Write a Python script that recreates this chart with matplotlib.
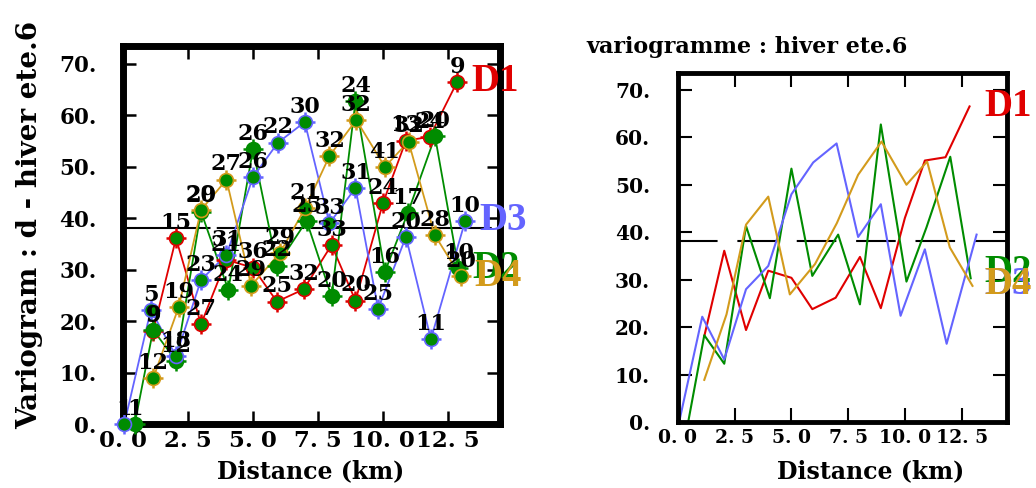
import matplotlib
matplotlib.use("Agg")
import matplotlib.pyplot as plt
from matplotlib.ticker import MultipleLocator, FuncFormatter

plt.rcParams["font.family"] = ["DejaVu Serif"]
plt.rcParams["font.weight"] = "bold"

# ------------------------------
# DATA
# ------------------------------
series_names = ["D1", "D2", "D3", "D4"]
series_colors = ["#e00000", "#008c00", "#6464ff", "#d39b1c"]

dist_d1 = [1.16, 2.04, 3.00, 3.98, 5.00, 5.92, 6.95, 8.02, 8.94, 10.00, 10.88, 11.79, 12.85]
gam_d1 = [18.1, 36.1, 19.4, 31.9, 30.4, 23.8, 26.2, 34.8, 24.0, 43.0, 55.1, 55.8, 66.5]
npairs_d1 = [9, 15, 27, 21, 36, 25, 32, 33, 20, 24, 13, 24, 9]

dist_d2 = [0.45, 1.16, 2.04, 3.00, 4.05, 5.00, 5.92, 7.06, 8.02, 8.94, 10.07, 10.95, 12.00, 12.90]
gam_d2 = [0.0, 18.3, 12.3, 41.3, 26.1, 53.4, 30.8, 39.5, 24.8, 62.7, 29.6, 41.0, 55.9, 30.3]
npairs_d2 = [1, 9, 12, 20, 24, 26, 22, 25, 20, 24, 16, 17, 20, 10]

dist_d3 = [0.05, 1.07, 2.04, 3.00, 3.98, 5.00, 5.96, 6.99, 7.94, 8.94, 9.81, 10.88, 11.84, 13.16]
gam_d3 = [0.0, 22.2, 13.2, 28.0, 32.9, 48.0, 54.7, 58.7, 39.0, 45.9, 22.4, 36.4, 16.5, 39.5]
npairs_d3 = [1, 5, 18, 23, 31, 26, 22, 30, 33, 31, 25, 20, 11, 10]

dist_d4 = [1.16, 2.14, 3.00, 3.98, 4.93, 6.04, 7.00, 7.94, 8.97, 10.07, 10.98, 11.98, 12.98]
gam_d4 = [8.9, 22.7, 41.6, 47.5, 26.9, 33.3, 41.9, 52.1, 59.1, 50.0, 54.9, 36.8, 28.7]
npairs_d4 = [12, 19, 29, 27, 29, 29, 21, 32, 32, 41, 32, 28, 20]

sill = 38.2

dists = [dist_d1, dist_d2, dist_d3, dist_d4]
gams = [gam_d1, gam_d2, gam_d3, gam_d4]
npairs = [npairs_d1, npairs_d2, npairs_d3, npairs_d4]


def style_axes(ax, spine_w, tick_len, tick_w, xpad, ypad, xsize, ysize):
    ax.set_xlim(0, 14.5)
    ax.set_ylim(0, 73.5)
    ax.xaxis.set_major_locator(MultipleLocator(2.5))
    ax.yaxis.set_major_locator(MultipleLocator(10))
    ax.xaxis.set_major_formatter(FuncFormatter(lambda v, p: f"{v:.1f}".replace(".", ". ")))
    ax.yaxis.set_major_formatter(FuncFormatter(lambda v, p: f"{v:.0f}."))
    ax.tick_params(axis="both", direction="in", top=True, right=True,
                   length=tick_len, width=tick_w, color="black")
    ax.tick_params(axis="x", pad=xpad, labelsize=xsize)
    ax.tick_params(axis="y", pad=ypad, labelsize=ysize)
    for lab in ax.get_xticklabels() + ax.get_yticklabels():
        lab.set_fontweight("bold")
    for sp in ax.spines.values():
        sp.set_linewidth(spine_w)


fig = plt.figure(figsize=(10.36, 4.88), dpi=100)

# ------------------------------
# LEFT PANEL: variogram with pair counts
# ------------------------------
ax1 = fig.add_axes([0.1187, 0.131, 0.364, 0.775])
ax1.axhline(sill, color="black", lw=1.5, dashes=(42, 3), zorder=1)

for name, col, d, g, n in zip(series_names, series_colors, dists, gams, npairs):
    ax1.plot(d, g, color=col, lw=1.3, zorder=2, clip_on=False)
    ax1.plot(d, g, ls="none", marker="+", ms=14, mew=1.8, color=col, zorder=3, clip_on=False)
    ax1.plot(d, g, ls="none", marker="o", ms=10, mfc="#008c00", mec=col, mew=1.2,
             zorder=4, clip_on=False)
    for x, y, k in zip(d, g, n):
        ax1.annotate(str(k), (x, y), xytext=(0, 3), textcoords="offset points",
                     ha="center", va="bottom", fontsize=16, fontweight="bold",
                     color="black", zorder=5, annotation_clip=False)
    ax1.text(d[-1] + 0.55, g[-1], name, color=col, fontsize=28, fontweight="bold",
             family="Liberation Serif", ha="left", va="center", clip_on=False, zorder=6)

style_axes(ax1, 5, 9.5, 1.8, 4, 19, 16.5, 15.5)
fig.text(0.029, 0.54, "Variogram : d - hiver ete.6", rotation=90, ha="center",
         va="center", fontsize=20, fontweight="bold")
fig.text(0.300, 0.035, "Distance (km)", ha="center", va="center",
         fontsize=17, fontweight="bold")

# ------------------------------
# RIGHT PANEL: plain variogram lines
# ------------------------------
ax2 = fig.add_axes([0.6544, 0.135, 0.3176, 0.715])
ax2.axhline(sill, color="black", lw=1.5, dashes=(19, 9.5), zorder=1)

right_label_y = [66.5, 31.5, 29.0, 29.0]
for name, col, d, g, ly in zip(series_names, series_colors, dists, gams, right_label_y):
    ax2.plot(d, g, color=col, lw=1.5, zorder=2)
    ax2.text(13.5, ly, name, color=col, fontsize=28, fontweight="bold",
             family="Liberation Serif", ha="left", va="center", clip_on=False, zorder=6)

style_axes(ax2, 3.5, 10, 1.5, 5, 20, 13.5, 14.5)
fig.text(0.566, 0.903, "variogramme : hiver ete.6", ha="left", va="center",
         fontsize=16, fontweight="bold")
fig.text(0.840, 0.035, "Distance (km)", ha="center", va="center",
         fontsize=17, fontweight="bold")

fig.savefig("out.png", dpi=100, facecolor="white")
